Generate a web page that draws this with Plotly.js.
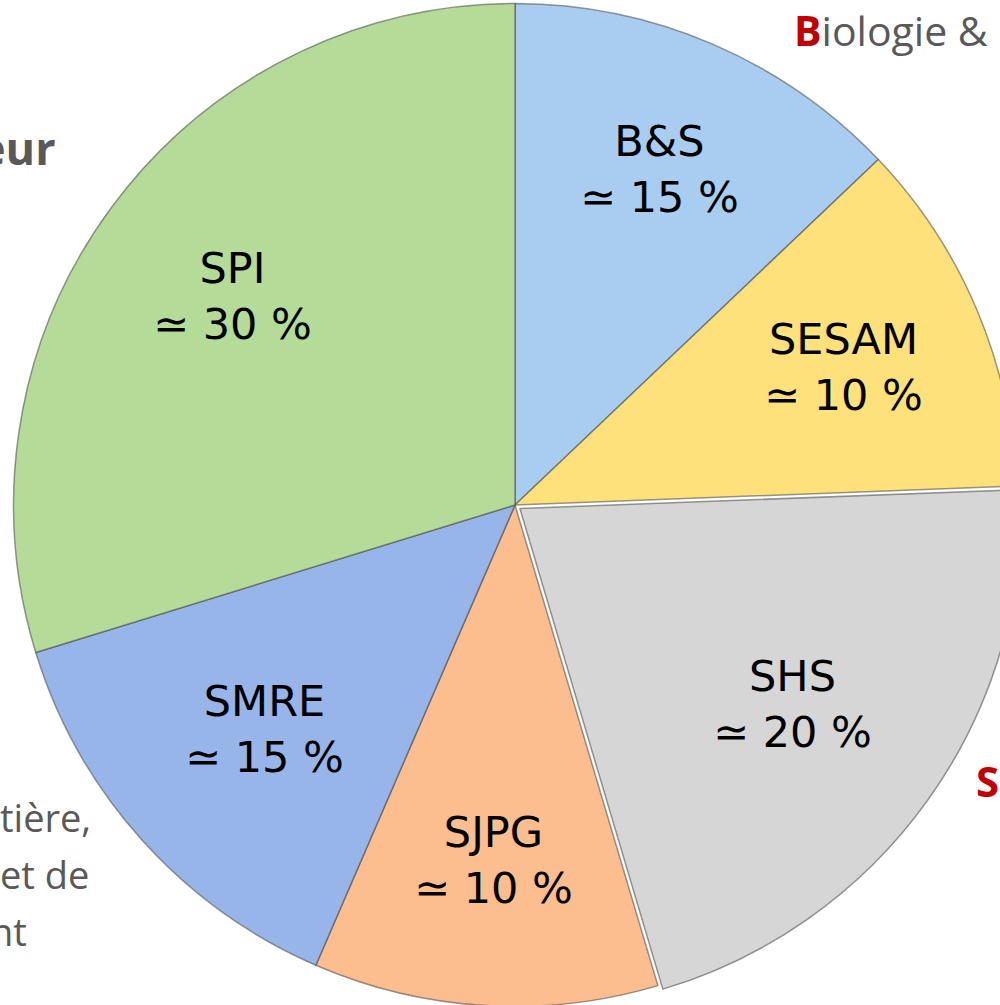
<!DOCTYPE html>
<html>
<head>
<meta charset="utf-8">
<script src="https://cdn.plot.ly/plotly-3.0.1.min.js"></script>
<style>
  html, body { margin: 0; padding: 0; overflow: hidden; background: #ffffff; width: 1000px; height: 1005px; }
  #chart { position: absolute; left: 0px; top: -5px; width: 1030px; height: 1020px; }
</style>
</head>
<body>
<div id="chart"></div>
<script>
// ---- data ----
const categories = ["B&S", "SESAM", "SHS", "SJPG", "SMRE", "SPI"];
const shares = [12.9, 11.5, 21.0, 11.1, 13.75, 29.75];
const shownPercent = ["≃ 15 %", "≃ 10 %", "≃ 20 %", "≃ 10 %", "≃ 15 %", "≃ 30 %"];

// ---- style ----
const sliceColors = ["#A8CDF1", "#FEE17A", "#D6D6D6", "#FCBD8F", "#97B5E8", "#B4DB98"];
const slicePull = [0, 0, 0.012, 0, 0, 0];
const labelRadius = [0.73, 0.71, 0.68, 0.71, 0.67, 0.70]; // label distance as share of radius

// ---- layout helpers (screen pixels -> paper) ----
const W = 1030, H = 1020, TOP = -5;
const DOMAIN_Y = [0.0025, 0.9975];
const px = x => x / W;
const py = y => 1 - (y - TOP) / H;

// pie radius in pixels as Plotly computes it (domain size / (2*(1+maxPull)))
const maxPull = Math.max(...slicePull);
const R = Math.min(W, H * (DOMAIN_Y[1] - DOMAIN_Y[0])) / (2 * (1 + maxPull));

// slice labels placed along each slice's mid angle (clockwise from 12 o'clock)
const total = shares.reduce((a, b) => a + b, 0);
let cum = 0;
const sliceLabels = categories.map((c, i) => {
  const mid = (cum + shares[i] / 2) / total * 2 * Math.PI;
  cum += shares[i];
  const d = labelRadius[i] * R;
  return {
    text: c + "<br>" + shownPercent[i],
    x: 0.5 + d * Math.sin(mid) / W,
    y: 0.5 + d * Math.cos(mid) / H,
    xref: "paper", yref: "paper",
    xanchor: "center", yanchor: "middle",
    showarrow: false,
    font: { family: "DejaVu Sans", size: 43, color: "#000000" }
  };
});

const trace = {
  type: "pie",
  labels: categories,
  values: shares,
  textinfo: "none",
  hoverinfo: "label+percent",
  sort: false,
  direction: "clockwise",
  rotation: 0,
  pull: slicePull,
  marker: {
    colors: sliceColors,
    line: { color: "rgba(70,70,70,0.55)", width: 1.5 }
  },
  domain: { x: [0, 1], y: DOMAIN_Y },
  showlegend: false
};

const greyText = "#595959";
const red = "#C00000";
const bgFont = { family: "Open Sans, Liberation Sans, sans-serif", size: 38, color: greyText };

const backgroundTexts = [
  { text: "<span style='color:" + red + "'><b>B</b></span>iologie &", x: px(793), y: py(30),
    xanchor: "left", yanchor: "middle", showarrow: false, borderpad: 0,
    font: { family: "Open Sans, Liberation Sans, sans-serif", size: 41, color: greyText } },
  { text: "<b>eur</b>", x: px(58), y: py(180), xanchor: "right", yanchor: "bottom", showarrow: false,
    font: { family: "Open Sans, Liberation Sans, sans-serif", size: 45, color: greyText } },
  { text: "tière,", x: px(93), y: py(845), xanchor: "right", yanchor: "bottom", showarrow: false, font: bgFont },
  { text: "et de", x: px(91), y: py(902), xanchor: "right", yanchor: "bottom", showarrow: false, font: bgFont },
  { text: "nt", x: px(29), y: py(959), xanchor: "right", yanchor: "bottom", showarrow: false, font: bgFont },
  { text: "<b>S</b>", x: px(974), y: py(811), xanchor: "left", yanchor: "bottom", showarrow: false,
    font: { family: "Open Sans, Liberation Sans, sans-serif", size: 42, color: red } }
];

const layout = {
  width: W,
  height: H,
  margin: { l: 0, r: 0, t: 0, b: 0, pad: 0 },
  paper_bgcolor: "#ffffff",
  plot_bgcolor: "#ffffff",
  font: { family: "DejaVu Sans" },
  annotations: backgroundTexts.concat(sliceLabels)
};

Plotly.newPlot("chart", [trace], layout, { staticPlot: true, displayModeBar: false });
</script>
</body>
</html>
